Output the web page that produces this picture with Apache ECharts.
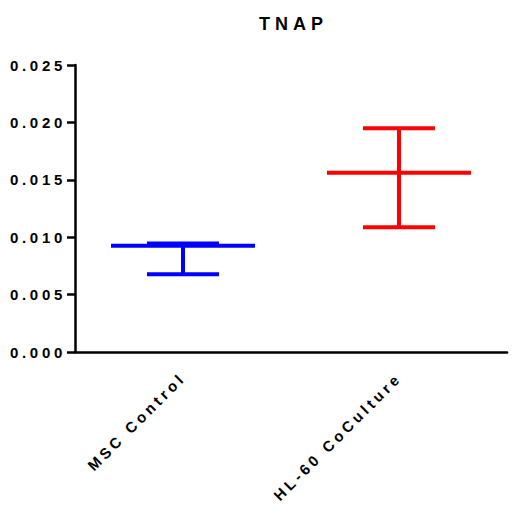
<!DOCTYPE html>
<html>
<head>
<meta charset="utf-8">
<script src="https://cdn.jsdelivr.net/npm/echarts@6/dist/echarts.min.js"></script>
<style>
  html, body { margin: 0; padding: 0; background: #fff; }
  #main { width: 523px; height: 519px; }
  /* Prism 风格的字间距 */
  #main text { letter-spacing: 3.7px; }
  #main text[style*="18px"] { letter-spacing: 5px; }
</style>
</head>
<body>
<div id="main"></div>
<script>
// 数据
const categories = ['MSC Control', 'HL-60 CoCulture']
const means = [0.00926, 0.01562]
const lowers = [0.00677, 0.01086]
const uppers = [0.00946, 0.01949]
const yTicks = { min: 0, max: 0.025, interval: 0.005 }
const colors = ['#0000ff', '#ff0000']

const font = 'Liberation Sans, Arial, sans-serif'

// 组装 custom series 数据: [类别索引, 均值, 下限, 上限]
let seriesData = categories.map((c, i) => [i, means[i], lowers[i], uppers[i]])

let mychart = echarts.init(document.getElementById('main'), null, { renderer: 'svg' })

let option = {
  animation: false,
  title: {
    text: 'TNAP',
    left: 254,
    top: 10,
    textStyle: { fontFamily: font, fontWeight: 'bold', fontSize: 18, color: '#000' }
  },
  grid: {
    left: 75,
    right: 16,
    top: 65,
    bottom: 167,
    outerBoundsMode: 'none'
  },
  xAxis: {
    type: 'category',
    data: categories,
    boundaryGap: true,
    axisLine: { lineStyle: { color: '#000', width: 2.5 } },
    axisTick: { alignWithLabel: true, length: 7, lineStyle: { color: '#000', width: 2.5 } },
    axisLabel: {
      rotate: 45,
      margin: 23,
      color: '#000',
      fontFamily: font,
      fontWeight: 'bold',
      fontSize: 15
    },
    splitLine: { show: false }
  },
  yAxis: {
    type: 'value',
    min: yTicks.min,
    max: yTicks.max,
    interval: yTicks.interval,
    axisLine: { show: true, lineStyle: { color: '#000', width: 2.5 } },
    axisTick: { show: true, length: 8, lineStyle: { color: '#000', width: 2.5 } },
    axisLabel: {
      margin: 9,
      color: '#000',
      fontFamily: font,
      fontWeight: 'bold',
      fontSize: 15,
      formatter: v => v.toFixed(3)
    },
    splitLine: { show: false }
  },
  series: [{
    type: 'custom',
    data: seriesData,
    renderItem: function (params, api) {
      let idx = api.value(0)
      let band = api.size([1, 0])[0]
      let pMean = api.coord([idx, api.value(1)])
      let pLow = api.coord([idx, api.value(2)])
      let pUp = api.coord([idx, api.value(3)])
      let x = pMean[0]
      let meanHalf = band / 3
      let capHalf = band / 6
      let style = { stroke: colors[idx], lineWidth: 4 }
      return {
        type: 'group',
        children: [
          { type: 'line', shape: { x1: x, y1: pLow[1], x2: x, y2: pUp[1] }, style: style },
          { type: 'line', shape: { x1: x - capHalf, y1: pUp[1], x2: x + capHalf, y2: pUp[1] }, style: style },
          { type: 'line', shape: { x1: x - capHalf, y1: pLow[1], x2: x + capHalf, y2: pLow[1] }, style: style },
          { type: 'line', shape: { x1: x - meanHalf, y1: pMean[1], x2: x + meanHalf, y2: pMean[1] }, style: style }
        ]
      }
    }
  }]
}

mychart.setOption(option)
</script>
</body>
</html>
